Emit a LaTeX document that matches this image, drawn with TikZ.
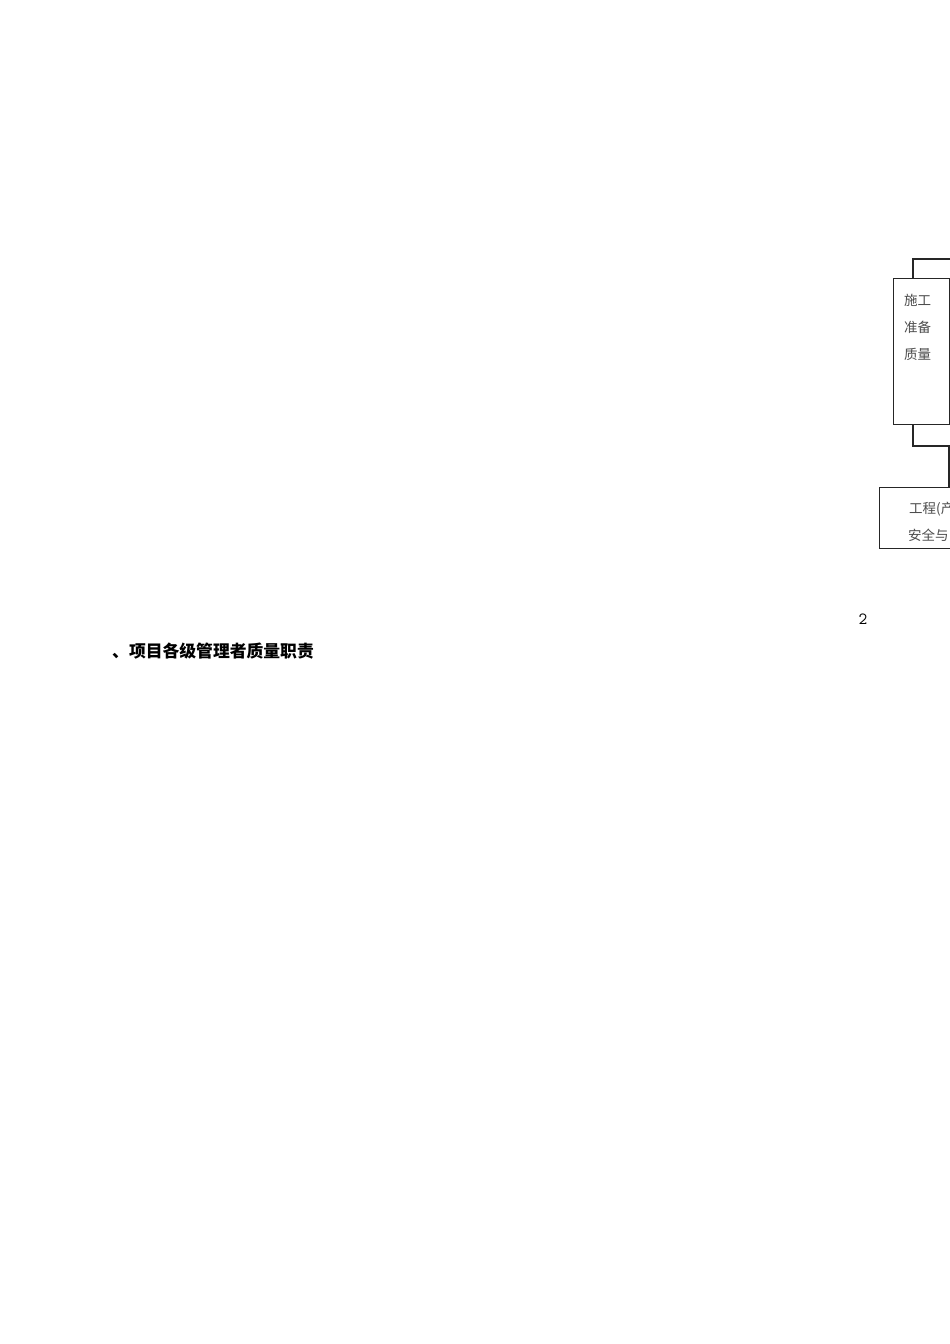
\documentclass[tikz,border=0pt]{standalone}
\usepackage{fontspec}
\newfontfamily\cjk{Noto Sans CJK SC}
\begin{document}
\begin{tikzpicture}[x=1pt,y=-1pt,
  box/.style={draw=black!85, line width=1.1pt, inner sep=0pt},
  conn/.style={draw=black!85, line width=1.1pt},
  boxtext/.style={font=\cjk\fontsize{13.5}{27}\selectfont, text=black!70, inner sep=0pt, align=left},
  heading/.style={font=\cjk\bfseries\fontsize{16.8}{20}\selectfont, inner sep=0pt, anchor=west},
  pagenum/.style={font=\ttfamily\fontsize{17}{20}\selectfont, inner sep=0pt}]
\useasboundingbox (0,0) rectangle (950,1344);
\fill[white] (0,0) rectangle (950,1344);
\clip (0,0) rectangle (950,1344);
% vertical box
\node[box, minimum width=56pt, minimum height=146pt, anchor=north west] (prep) at (893,278) {};
\node[boxtext, anchor=north west] (preptext) at (904,293.5) {施工\\准备\\质量};
% lower box (cut off at right edge)
\node[box, minimum width=120pt, minimum height=61pt, anchor=north west] (proj) at (879,487) {};
\node[boxtext, anchor=west] (projtext1) at (909,509.5) {工程(产};
\node[boxtext, anchor=west] (projtext2) at (908,535.5) {安全与};
% connectors
\coordinate (tr) at (970,259);
\coordinate (m) at (949,446);
\draw[conn] ([xshift=20pt]prep.north west) |- (tr);
\draw[conn] ([xshift=20pt]prep.south west) |- (m) -- (m |- proj.north);
% page number and heading
\node[pagenum] (num) at (863,619) {2};
\node[heading] (head) at (112,651) {、项目各级管理者质量职责};
\end{tikzpicture}
\end{document}
